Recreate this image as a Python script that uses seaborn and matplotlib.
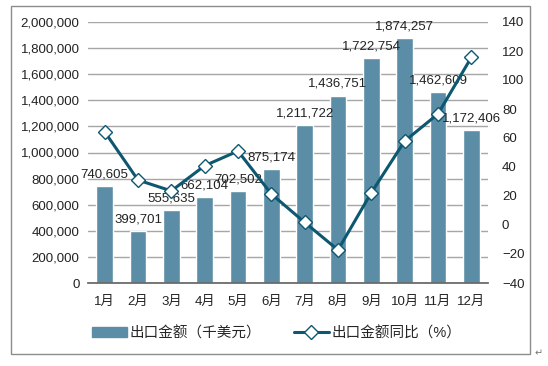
import matplotlib
matplotlib.use("Agg")
import matplotlib.pyplot as plt
import seaborn as sns
import pandas as pd
from matplotlib.patches import Rectangle
from matplotlib.lines import Line2D
from matplotlib.patches import Patch

months = ["1月", "2月", "3月", "4月", "5月", "6月", "7月", "8月", "9月", "10月", "11月", "12月"]
export_value = [740605, 399701, 555635, 662104, 702502, 875174, 1211722, 1436751, 1722754, 1874257, 1462609, 1172406]
yoy_pct = [64.3, 31.0, 23.5, 40.9, 51.0, 21.4, 1.8, -17.2, 22.3, 57.9, 76.6, 115.6]
bar_label = "出口金额（千美元）"
line_label = "出口金额同比（%）"

bar_color = "#5B8EA6"
line_color = "#0D5770"

sns.set_theme(style="white")
plt.rcParams["font.family"] = ["Liberation Sans", "Noto Sans CJK SC", "DejaVu Sans"]

df = pd.DataFrame({"month": months, "value": export_value, "yoy": yoy_pct})

fig = plt.figure(figsize=(5.48, 3.66), dpi=100)
ax = fig.add_axes([88 / 548, 1 - 283 / 366, 400 / 548, 261 / 366])

sns.barplot(data=df, x="month", y="value", color=bar_color, width=0.5,
            saturation=1, ax=ax, zorder=2)
ax.set_ylim(0, 2000000)
ax.set_yticks(range(0, 2000001, 200000))
ax.set_yticklabels([f"{v:,}" for v in range(0, 2000001, 200000)])
ax.yaxis.grid(True, color="#A6A6A6", linewidth=1)
ax.set_axisbelow(True)
ax.set_xlabel("")
ax.set_ylabel("")
for s in ["top", "left", "right"]:
    ax.spines[s].set_visible(False)
ax.spines["bottom"].set_color("#666666")
ax.tick_params(axis="y", length=0, labelsize=9.5, colors="#222222", pad=6)
ax.tick_params(axis="x", length=0, labelsize=9.5, colors="#222222", pad=9)
ax.set_xlim(-0.5, 11.5)

for i, v in enumerate(export_value):
    ax.annotate(f"{v:,}", (i, v), xytext=(0, 4), textcoords="offset points",
                ha="center", va="bottom", fontsize=9.5, color="#222222", zorder=5)

ax2 = ax.twinx()
sns.lineplot(data=df, x="month", y="yoy", ax=ax2, color=line_color, linewidth=2.2,
             marker="D", markersize=7, markerfacecolor="white",
             markeredgecolor=line_color, markeredgewidth=1.0, zorder=4)
ax2.set_ylim(-40, 140)
ax2.set_yticks(range(-40, 141, 20))
ax2.set_xlabel("")
ax2.set_ylabel("")
for s in ["top", "left", "right", "bottom"]:
    ax2.spines[s].set_visible(False)
ax2.tick_params(axis="y", length=0, labelsize=9.5, colors="#222222", pad=10)
ax2.grid(False)
ax2.set_xlim(-0.5, 11.5)

handles = [Patch(facecolor=bar_color, edgecolor=bar_color),
           Line2D([0], [0], color=line_color, linewidth=2.2, marker="D", markersize=7,
                  markerfacecolor="white", markeredgecolor=line_color)]
fig.legend(handles, [bar_label, line_label], loc="center", bbox_to_anchor=(0.505, 1 - 333 / 366),
           ncol=2, frameon=False, fontsize=10.5, handlelength=2.4, handleheight=0.7,
           columnspacing=2.2, handletextpad=0.2)

fig.patches.append(Rectangle((11 / 548, 1 - 354 / 366), 519 / 548, 348 / 366,
                             transform=fig.transFigure, fill=False,
                             edgecolor="#8C8C8C", linewidth=1))
fig.text(535 / 548, 1 - 353 / 366, "↵", fontsize=7, color="#777777",
         family=["DejaVu Sans"], ha="left", va="center")

fig.savefig("out.png", dpi=100)
